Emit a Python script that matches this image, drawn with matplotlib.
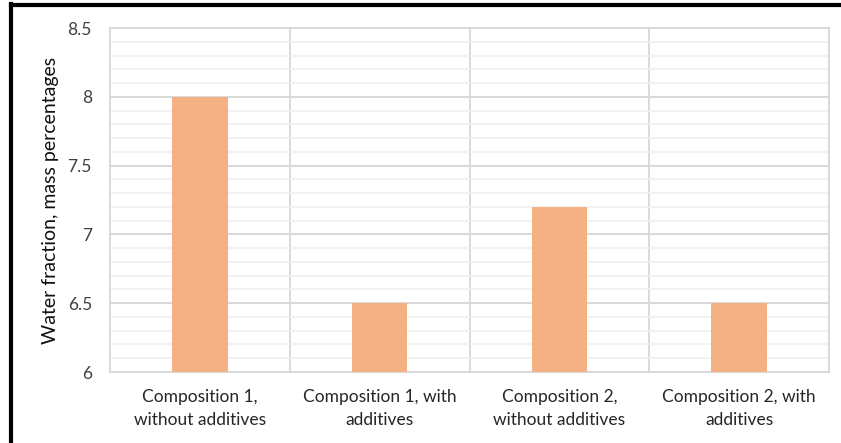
import matplotlib.pyplot as plt
import numpy as np
from matplotlib.ticker import MultipleLocator

categories = ['Composition 1,\nwithout additives', 'Composition 1, with\nadditives',
              'Composition 2,\nwithout additives', 'Composition 2, with\nadditives']
water = [8.0, 6.5, 7.2, 6.5]
yticks = [6, 6.5, 7, 7.5, 8, 8.5]
ytick_labels = ['6', '6.5', '7', '7.5', '8', '8.5']

plt.rcParams['font.family'] = ['Lato', 'DejaVu Sans']

fig = plt.figure(figsize=(8.41, 4.43), dpi=100, facecolor='w')
ax = fig.add_axes([110/841, 1-372/443, (829-110)/841, (372-28)/443])

x = np.arange(len(categories))
ax.bar(x, [v - 6 for v in water], bottom=6, width=0.31, color='#f4b183', zorder=3)

ax.set_xlim(-0.5, len(categories) - 0.5)
ax.set_ylim(6, 8.5)
ax.set_yticks(yticks)
ax.set_yticklabels(ytick_labels, fontsize=12.5, color='#404040')
ax.yaxis.set_minor_locator(MultipleLocator(0.1))
ax.set_xticks(x)
ax.set_xticklabels(categories, fontsize=12.5, color='#262626', linespacing=1.6)
ax.tick_params(axis='both', which='both', length=0)
ax.tick_params(axis='y', pad=13)
ax.tick_params(axis='x', pad=12)

ax.grid(axis='y', which='minor', color='#f0f0f0', linewidth=1.2, zorder=0)
ax.grid(axis='y', which='major', color='#d9d9d9', linewidth=1.4, zorder=1)
for b in np.arange(0.5, len(categories) - 1, 1.0):
    ax.axvline(b, color='#d9d9d9', linewidth=1.4, zorder=1)
for s in ax.spines.values():
    s.set_color('#d9d9d9')
    s.set_linewidth(1.4)

ax.set_ylabel('Water fraction, mass percentages', fontsize=14, color='#111111', labelpad=6)

# outer frame on left and top
fig.add_artist(plt.Line2D([11/841, 11/841], [0, 1 - 4/443], color='k', linewidth=3))
fig.add_artist(plt.Line2D([11/841, 1], [1 - 5/443, 1 - 5/443], color='k', linewidth=3))

plt.savefig('out.png', dpi=100)
